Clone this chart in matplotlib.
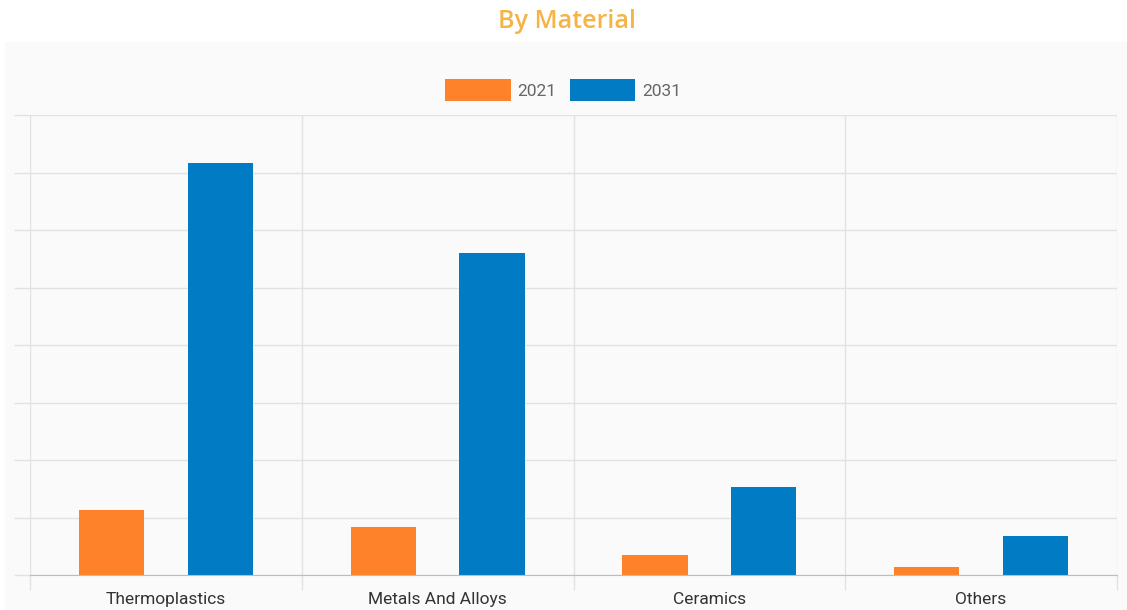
import matplotlib.pyplot as plt
from matplotlib.patches import Rectangle, Patch
import numpy as np

categories = ["Thermoplastics", "Metals And Alloys", "Ceramics", "Others"]
years = ["2021", "2031"]
values_2021 = [1.13, 0.83, 0.35, 0.14]
values_2031 = [7.17, 5.6, 1.53, 0.68]

orange = "#FE8229"
blue = "#007BC4"
grid_col = "#E2E2E2"
panel_col = "#FAFAFA"

W, H = 1127, 610
fig = plt.figure(figsize=(W / 100, H / 100), dpi=100)
fig.patch.set_facecolor("white")

# light grey panel behind the chart
fig.patches.append(Rectangle((5 / W, 0), 1 - 5 / W, 568 / H, transform=fig.transFigure,
                             facecolor=panel_col, edgecolor="none", zorder=-5))

fig.text(567 / W, 1 - 21 / H, "By Material", ha="center", va="center",
         fontsize=18, color="#F5B445", fontweight="semibold", family="Open Sans")

ax = fig.add_axes([30 / W, 35 / H, 1087 / W, 460 / H])
ax.set_facecolor(panel_col)

x = np.arange(len(categories))
bw = 0.24
ax.bar(x - 0.2, values_2021, bw, color=orange, zorder=3, label=years[0])
ax.bar(x + 0.2, values_2031, bw, color=blue, zorder=3, label=years[1])

ax.set_xlim(-0.5, 3.5)
ax.set_ylim(0, 8)

ax.set_yticks(np.arange(0, 9, 1))
ax.set_yticklabels([])
ax.tick_params(axis="y", length=11.5, color=grid_col, width=1)
ax.grid(axis="y", color=grid_col, linewidth=1, zorder=0)

ax.set_xticks(x)
ax.set_xticklabels(categories, fontsize=12.5, color="#333333", family="Roboto")
ax.tick_params(axis="x", which="major", length=0, pad=12.5)
ax.set_xticks(np.arange(-0.5, 3.6, 1), minor=True)
ax.tick_params(axis="x", which="minor", length=11, color=grid_col, width=1)
ax.grid(axis="x", which="minor", color=grid_col, linewidth=1, zorder=0)

for s in ["top", "right", "left"]:
    ax.spines[s].set_visible(False)
ax.spines["bottom"].set_color("#BDBDBD")
ax.spines["bottom"].set_zorder(4)

handles = [Patch(facecolor=orange), Patch(facecolor=blue)]
fig.legend(handles, years, loc="center", bbox_to_anchor=(563 / W, 1 - 90 / H),
           ncol=2, frameon=False, labelcolor="#666666",
           handlelength=3.8, handleheight=1.6, handletextpad=0.4, columnspacing=0.75,
           prop={"family": "Roboto", "size": 12.5})

fig.savefig("out.png", dpi=100)
